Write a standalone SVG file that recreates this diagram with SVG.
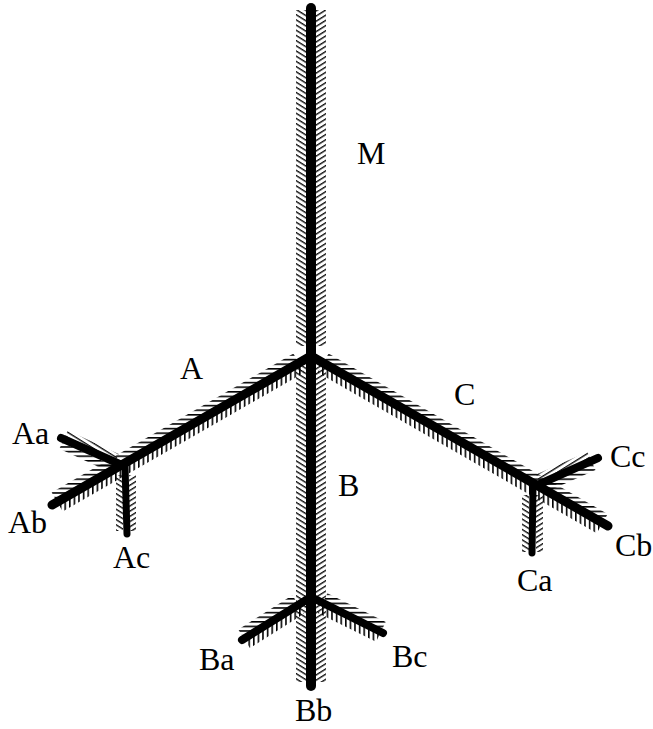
<svg xmlns="http://www.w3.org/2000/svg" width="653" height="729" viewBox="0 0 653 729">
  <style>
    .br { stroke: #000; fill: none; stroke-linecap: round; stroke-linejoin: round; }
    .lbl { font-family: "Liberation Serif", "Times New Roman", serif; font-size: 32px; fill: #000; }
  </style>
  <defs>
    <pattern id="hz" width="8" height="4.6" patternUnits="userSpaceOnUse"><rect width="8" height="1.6" fill="#000"/></pattern>
    <pattern id="vt" width="4.6" height="8" patternUnits="userSpaceOnUse"><rect width="1.6" height="8" fill="#000"/></pattern>
    <pattern id="dl" width="8" height="4.4" patternUnits="userSpaceOnUse" patternTransform="rotate(32)"><rect width="8" height="1.4" fill="#111"/></pattern>
    <pattern id="dr" width="8" height="4.4" patternUnits="userSpaceOnUse" patternTransform="rotate(-32)"><rect width="8" height="1.4" fill="#111"/></pattern>
  </defs>
  <rect width="653" height="729" fill="#fff"/>

  <g id="connectors">
    <!-- hatching: vertical M and B -->
    <rect x="296" y="10" width="11" height="336" fill="url(#dl)"/>
    <rect x="315" y="10" width="11" height="336" fill="url(#dr)"/>
    <rect x="296" y="366" width="11" height="316" fill="url(#dl)"/>
    <rect x="315" y="366" width="11" height="316" fill="url(#dr)"/>
    <!-- A / Ab -->
    <polygon points="297.4,360.4 293.4,353.5 51.7,492.5 55.7,499.4" fill="url(#hz)"/>
    <polygon points="300.4,365.6 304.4,372.5 62.7,511.5 58.7,504.6" fill="url(#vt)"/>
    <!-- Aa -->
    <polygon points="64.9,437.0 67.8,430.6 118.7,454.0 115.8,460.4" fill="url(#dl)"/>
    <polygon points="62.3,442.4 59.4,448.8 110.3,472.2 113.2,465.8" fill="url(#hz)"/>
    <!-- Ac -->
    <rect x="116" y="475" width="7" height="56" fill="url(#dl)"/>
    <rect x="129" y="475" width="7" height="56" fill="url(#dr)"/>
    <!-- C / Cb -->
    <polygon points="324.6,360.4 328.6,353.5 607.7,514.1 603.7,521.1" fill="url(#hz)"/>
    <polygon points="321.6,365.6 317.6,372.5 596.7,533.2 600.7,526.3" fill="url(#vt)"/>
    <!-- Cc -->
    <polygon points="539.1,481.0 536.2,474.6 587.3,451.9 590.2,458.3" fill="url(#dr)"/>
    <polygon points="541.5,486.4 544.4,492.8 595.5,470.1 592.6,463.7" fill="url(#hz)"/>
    <!-- Ca -->
    <rect x="522" y="495" width="7" height="57" fill="url(#dl)"/>
    <rect x="536" y="495" width="7" height="57" fill="url(#dr)"/>
    <!-- Ba -->
    <polygon points="296.6,602.0 292.4,595.3 238.3,629.5 242.5,636.2" fill="url(#hz)"/>
    <polygon points="299.8,607.0 304.0,613.8 249.9,648.0 245.7,641.2" fill="url(#vt)"/>
    <!-- Bc -->
    <polygon points="323.9,600.5 327.4,593.3 385.7,622.0 382.2,629.2" fill="url(#hz)"/>
    <polygon points="321.3,605.9 317.8,613.1 376.1,641.8 379.6,634.6" fill="url(#vt)"/>

    <!-- main branches -->
    <path class="br" stroke-width="10" d="M311,8 L311,356"/>
    <path class="br" stroke-width="10" d="M311,356 L311,686"/>
    <path class="br" stroke-width="9" d="M311,356 L52,505"/>
    <path class="br" stroke-width="9" d="M311,356 L608,526"/>
    <path class="br" stroke-width="8" d="M61,438 L124,466"/>
    <path class="br" stroke-width="7" d="M125,466 L127,534"/>
    <path class="br" stroke-width="8" d="M533,487 L598,458"/>
    <path class="br" stroke-width="7" d="M533,487 L532,553"/>
    <path class="br" stroke-width="8" d="M311,597 L242,640"/>
    <path class="br" stroke-width="8" d="M311,597 L383,633"/>
  </g>

  <g id="node-M"><text class="lbl" x="357" y="164">M</text></g>
  <g id="node-A"><text class="lbl" x="180" y="379">A</text></g>
  <g id="node-B"><text class="lbl" x="338" y="496">B</text></g>
  <g id="node-C"><text class="lbl" x="454" y="405">C</text></g>
  <g id="node-Aa"><text class="lbl" x="12" y="444">Aa</text></g>
  <g id="node-Ab"><text class="lbl" x="8" y="533">Ab</text></g>
  <g id="node-Ac"><text class="lbl" x="113" y="568">Ac</text></g>
  <g id="node-Ba"><text class="lbl" x="199" y="670">Ba</text></g>
  <g id="node-Bb"><text class="lbl" x="295" y="721">Bb</text></g>
  <g id="node-Bc"><text class="lbl" x="392" y="667">Bc</text></g>
  <g id="node-Ca"><text class="lbl" x="517" y="591">Ca</text></g>
  <g id="node-Cb"><text class="lbl" x="615" y="556">Cb</text></g>
  <g id="node-Cc"><text class="lbl" x="610" y="467">Cc</text></g>
</svg>
